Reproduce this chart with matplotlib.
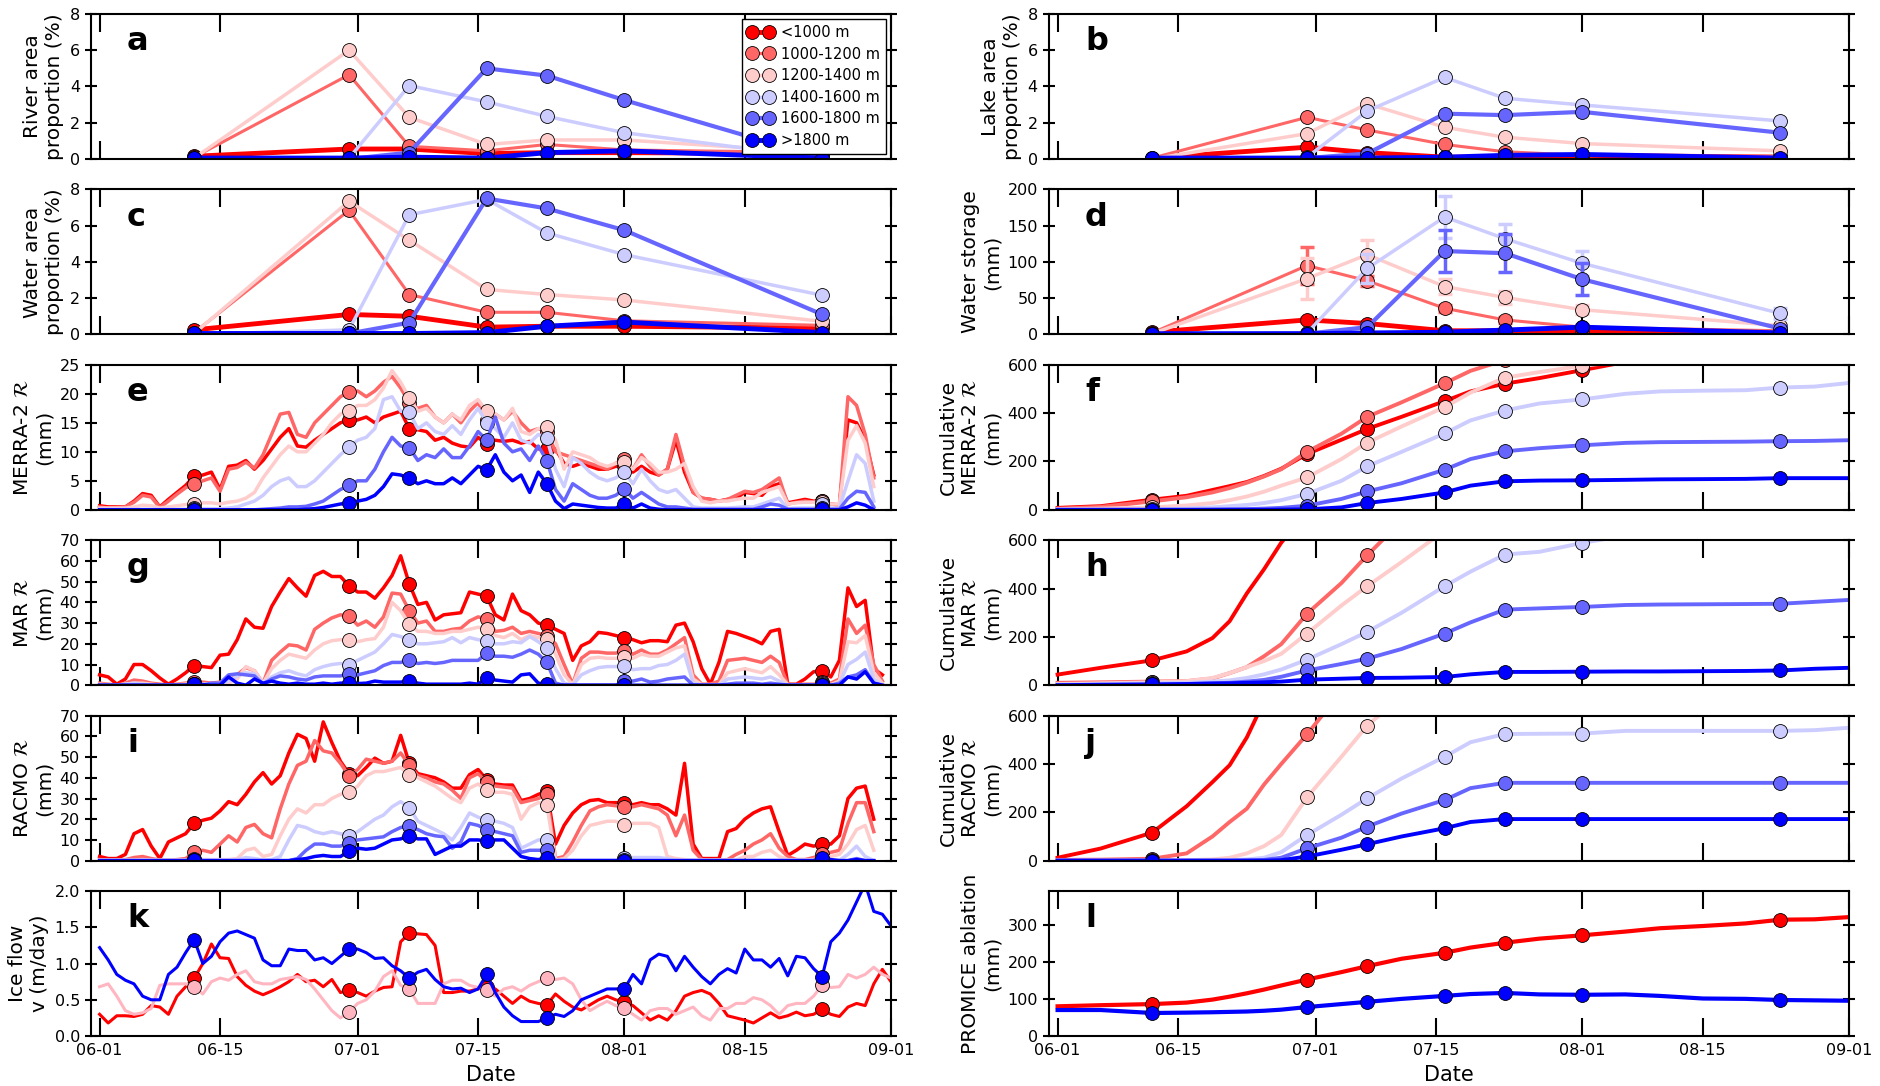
import numpy as np
import pandas as pd
import matplotlib
matplotlib.use("Agg")
import matplotlib.pyplot as plt
import matplotlib.dates as mdates

nan = np.nan

# elevation bands and their colours
bands = ["<1000 m", "1000-1200 m", "1200-1400 m", "1400-1600 m", "1600-1800 m", ">1800 m"]
band_colors = [(1, 0, 0), (1, 0.4, 0.4), (1, 0.8, 0.8), (0.8, 0.8, 1), (0.4, 0.4, 1), (0, 0, 1)]

# days since 06-01 of the satellite images
obs_days = [11, 29, 36, 45, 52, 61, 84]
tick_dates = ["2016-06-01", "2016-06-15", "2016-07-01", "2016-07-15", "2016-08-01", "2016-08-15", "2016-09-01"]

# a - river area proportion (%)
river_area = [
    [0.15, 0.55, 0.55, 0.3, 0.35, 0.35, 0.3],
    [0.1, 4.65, 0.7, 0.45, 0.8, 0.5, 0.35],
    [0.05, 6.0, 2.3, 0.8, 1.05, 1.05, 0.35],
    [0.0, 0.05, 4.05, 3.15, 2.35, 1.45, 0.05],
    [0.0, 0.0, 0.35, 5.0, 4.6, 3.25, 0.05],
    [0.05, 0.05, 0.1, 0.05, 0.35, 0.45, 0.05],
]
# b - lake area proportion (%)
lake_area = [
    [0.05, 0.65, 0.35, 0.1, 0.1, 0.2, 0.1],
    [0.05, 2.3, 1.6, 0.8, 0.4, 0.2, 0.15],
    [0.0, 1.4, 3.05, 1.75, 1.2, 0.85, 0.45],
    [0.0, 0.1, 2.65, 4.5, 3.35, 2.98, 2.1],
    [0.0, 0.05, 0.3, 2.5, 2.42, 2.6, 1.45],
    [0.05, 0.05, 0.05, 0.1, 0.2, 0.25, 0.05],
]
# c - water area proportion (%)
water_area = [
    [0.25, 1.1, 1.0, 0.4, 0.45, 0.45, 0.35],
    [0.1, 6.85, 2.2, 1.22, 1.22, 0.75, 0.5],
    [0.05, 7.35, 5.2, 2.48, 2.2, 1.9, 0.72],
    [0.0, 0.25, 6.6, 7.45, 5.6, 4.4, 2.16],
    [0.0, 0.05, 0.65, 7.5, 6.95, 5.75, 1.1],
    [0.05, 0.05, 0.05, 0.1, 0.45, 0.68, 0.1],
]
# d - water storage (mm) and uncertainty
water_storage = [
    [3, 20, 15, 5, 5, 5, 3],
    [2, 95, 74, 36, 20, 10, 5],
    [1, 77, 110, 66, 51, 34, 12],
    [0, 2, 91, 162, 132, 98, 29],
    [0, 1, 10, 115, 112, 76, 8],
    [1, 1, 2, 3, 6, 10, 2],
]
water_storage_err = [
    [1, 3, 2, 1, 1, 1, 1],
    [1, 26, 7, 5, 4, 2, 1],
    [1, 28, 20, 10, 9, 6, 3],
    [0, 1, 20, 29, 20, 17, 8],
    [0, 1, 5, 29, 26, 22, 3],
    [0, 0, 1, 1, 2, 3, 1],
]

# e - MERRA-2 daily runoff (mm), one value per day from 06-01
merra_daily = [
    [0.7, 0.5, 0.5, 0.5, 1.5, 2.8, 2.5, 0.5, 1.8, 3.0,
     4.2, 5.8, 6.0, 6.5, 3.5, 7.5, 7.7, 8.5, 7.0, 8.5,
     10.5, 12.5, 14.0, 11.0, 10.8, 12.0, 13.0, 14.0, 15.0, 15.5,
     15.5, 16.0, 15.0, 16.0, 16.5, 17.0, 14.0, 13.8, 13.5, 12.0,
     12.5, 11.5, 11.0, 10.8, 12.5, 11.3, 12.0, 11.8, 12.0, 11.5,
     11.8, 10.5, 10.5, 10.5, 8.0, 7.5, 8.0, 7.5, 7.0, 7.0,
     7.5, 7.5, 6.5, 7.5, 6.5, 6.0, 7.0, 12.0, 6.5, 3.0,
     2.0, 1.8, 1.5, 1.8, 2.0, 3.0, 2.8, 2.5, 4.0, 4.5,
     1.2, 1.5, 1.8, 1.5, 1.5, 1.0, 0.8, 15.5, 15.0, 12.0,
     6.0],
    [0.5, 0.3, 0.4, 0.5, 1.3, 2.5, 2.2, 0.4, 1.5, 2.7,
     3.8, 4.5, 5.0, 5.5, 3.2, 7.0, 7.3, 8.2, 7.2, 9.5,
     13.0, 16.5, 16.8, 13.0, 12.5, 15.0, 16.5, 18.0, 19.5, 20.3,
     20.5, 19.5, 20.5, 22.0, 23.0, 21.0, 18.5, 17.5, 18.0, 16.0,
     15.0, 16.5, 15.0, 17.0, 18.5, 15.5, 16.5, 15.5, 17.0, 15.0,
     13.5, 14.0, 13.5, 10.0, 9.5, 9.0, 8.5, 8.0, 7.5, 7.0,
     8.0, 8.8, 7.0, 9.5, 7.5, 6.0, 7.0, 13.0, 7.5, 3.0,
     2.0, 1.8, 1.5, 1.8, 2.5, 3.2, 3.0, 3.5, 4.5, 5.5,
     1.0, 1.3, 1.5, 1.3, 1.5, 1.0, 0.8, 19.5, 18.0, 13.0,
     5.5],
    [0.3, 0.3, 0.3, 0.3, 0.5, 0.8, 0.7, 0.3, 0.5, 0.7,
     0.9, 1.0, 1.2, 1.2, 1.0, 1.3, 1.5, 2.0, 3.0, 5.5,
     7.5, 9.5, 11.0, 10.0, 10.0, 11.5, 13.0, 15.0, 16.5, 17.0,
     18.0, 18.0, 19.0, 21.0, 24.0, 22.0, 19.3, 17.0, 17.5, 16.0,
     15.0, 16.5, 15.5, 18.0, 19.0, 17.0, 16.5, 15.5, 17.5, 13.5,
     13.0, 14.0, 14.3, 12.0, 7.0, 10.0, 9.5, 9.0, 8.0, 7.5,
     8.0, 8.2, 7.0, 9.0, 8.0, 6.5, 6.5, 7.0, 8.0, 4.0,
     1.5, 1.2, 1.5, 1.5, 1.8, 2.0, 2.0, 3.0, 3.5, 4.0,
     1.0, 1.2, 1.3, 1.3, 1.3, 1.0, 1.0, 12.0, 14.5, 11.5,
     4.0],
    [0.1, 0.1, 0.1, 0.1, 0.1, 0.1, 0.1, 0.1, 0.1, 0.1,
     0.1, 0.3, 0.2, 0.2, 0.2, 0.3, 0.5, 1.0, 1.5, 2.5,
     4.0, 5.0, 5.5, 4.0, 4.0, 5.0, 6.5, 8.0, 9.5, 10.8,
     12.0, 12.5, 14.0, 19.0, 19.5, 17.0, 16.8, 14.0, 15.0, 13.5,
     13.0, 14.5, 13.0, 15.5, 17.5, 15.0, 14.0, 12.5, 15.0, 12.0,
     11.5, 13.0, 12.3, 7.0, 4.0, 9.0, 8.0, 6.5, 5.5, 5.0,
     5.5, 6.5, 4.5, 7.0, 5.0, 3.5, 3.0, 3.5, 2.0, 0.5,
     0.3, 0.3, 0.3, 0.3, 0.4, 0.5, 0.5, 1.0, 1.5, 2.0,
     0.2, 0.3, 0.3, 0.3, 1.0, 0.3, 0.3, 5.0, 9.5, 8.0,
     1.5],
    [0, 0, 0, 0, 0, 0, 0, 0, 0, 0,
     0, 0.1, 0, 0, 0, 0, 0, 0, 0, 0.1,
     0.2, 0.3, 0.5, 0.5, 0.6, 1.0, 1.5, 2.5, 3.5, 4.2,
     5.0, 5.0, 7.0, 10.0, 12.5, 11.0, 10.7, 8.5, 9.5, 9.0,
     10.5, 9.0, 9.0, 11.0, 13.5, 12.0, 16.0, 11.5, 10.0, 10.5,
     8.5, 11.0, 8.5, 3.5, 1.5, 4.5, 3.5, 2.5, 2.0, 2.0,
     2.5, 3.6, 2.0, 3.0, 2.0, 1.0, 0.5, 0.5, 0.3, 0.1,
     0.1, 0.1, 0.1, 0.1, 0.1, 0.1, 0.1, 0.5, 1.0, 0.8,
     0.1, 0.1, 0.1, 0.1, 0.3, 0.1, 0.1, 2.0, 3.2, 3.0,
     0.5],
    [0, 0, 0, 0, 0, 0, 0, 0, 0, 0,
     0, 0.05, 0, 0, 0, 0, 0, 0, 0, 0,
     0, 0, 0, 0, 0.1, 0.2, 0.4, 0.7, 1.0, 1.2,
     1.5, 1.8, 2.5, 4.0, 6.2, 6.0, 5.4, 4.5, 5.0, 4.5,
     4.5, 5.5, 4.5, 6.0, 7.5, 6.9, 9.5, 6.5, 5.0, 6.0,
     3.0, 6.5, 4.5, 1.5, 0.2, 1.0, 0.8, 0.6, 0.4, 0.3,
     0.3, 1.0, 0.3, 1.0, 0.3, 0.1, 0, 0, 0, 0,
     0, 0, 0, 0, 0, 0, 0, 0, 0, 0,
     0, 0, 0, 0, 0.1, 0, 0, 0.5, 1.2, 0.8,
     0],
]

# g - MAR daily runoff (mm)
mar_daily = [
    [5, 4, 0.5, 3, 10, 10, 7, 3.5, 0.5, 3,
     6, 9.5, 9, 8.5, 14.5, 15, 22, 32, 28, 27.5,
     38, 45, 51.5, 47, 43, 53, 55, 52.5, 52.5, 48,
     45, 45, 42, 47, 53, 62.5, 49, 39, 40, 31.5,
     34, 34.5, 35, 45, 44, 43, 34, 31.5, 44, 36,
     34, 30, 29, 27, 25, 12, 19, 21, 25.5, 25,
     24, 23, 22, 20.5, 21.5, 21.5, 21, 29, 30, 21,
     8, 0.5, 11, 26, 25, 23.5, 22, 20, 26, 27,
     0.5, 0.5, 3, 6.5, 7, 4, 12, 47, 38, 41,
     8, 5],
    [1, 0.5, 0, 1, 2.5, 2, 1, 0.5, 0, 0.5,
     1, 1.5, 1.5, 1, 1.5, 2, 5, 8.5, 7, 1,
     12, 16, 19.5, 19, 17, 27, 30, 32.5, 34, 33.5,
     29, 31, 28, 33, 44.5, 44, 36, 30, 31, 26,
     26, 27, 27.5, 31, 33, 32, 26, 26.5, 28, 25,
     26, 25, 24, 20, 10, 0.5, 13, 16, 16, 15.5,
     15.5, 16.5, 15, 17, 15, 15, 17, 20, 23, 5,
     0.5, 0.5, 2, 12, 12.5, 13, 12, 11, 14, 11,
     0.3, 0.2, 0.5, 0.5, 1.5, 1, 3, 32, 25, 29,
     10, 2],
    [0.5, 0.3, 0, 0.5, 1, 1, 0.5, 0, 0, 0.3,
     0.5, 0.5, 0.5, 0.5, 1, 1, 3, 9, 7, 1,
     8, 12, 15, 14, 13, 17, 20, 21.5, 22, 22,
     21, 22, 22.5, 28, 40, 36, 29.5, 26, 26, 25,
     25, 26, 26, 27, 28, 27, 24, 23, 25, 22,
     24, 23, 22.5, 15, 5, 0.3, 10, 13, 13.5, 13,
     13, 13.5, 13, 15, 14, 14, 16, 18, 19, 3,
     0.3, 0.3, 0.3, 6, 7, 8, 7, 6, 9, 5,
     0.3, 0.3, 0.3, 0.3, 1, 0.3, 2, 21, 20.5, 24,
     6, 1],
    [0, 0, 0, 0.5, 1, 0.5, 0, 0, 0, 0,
     0.3, 0.5, 0.5, 0.5, 1, 2, 4.5, 6, 5.5, 1,
     4, 6, 7, 5.5, 4.5, 7.5, 9, 10, 10.5, 10,
     12, 14, 16, 20, 24.5, 23.5, 22, 20, 20, 20.5,
     21, 23, 20.5, 23, 22, 21.5, 20, 20, 21, 20.5,
     23.5, 21, 18, 8, 1, 0, 5, 7, 8.5, 9,
     9, 9.5, 7.5, 8, 8, 9.5, 10, 12, 15, 1,
     0, 0, 0, 3, 3.5, 4, 3.5, 3, 4, 2,
     0, 0, 0, 0, 0.5, 0, 1, 10, 12.5, 16,
     3, 0],
    [0, 0, 0, 0, 0, 0, 0, 0, 0, 0,
     0, 0.5, 0, 1, 1, 5, 5.5, 5, 4.5, 0.5,
     3, 4.5, 4, 3, 2.5, 4, 4.5, 4.5, 4.5, 5.5,
     5, 6, 7, 9.5, 11, 11, 12, 10.5, 11, 10.5,
     11, 12, 12, 12, 12, 15.5, 14, 14, 13.5, 15,
     17, 15, 11, 1, 0, 0, 0, 0, 0, 0,
     0, 2, 2, 3, 1.5, 2, 3, 3.5, 4, 0,
     0, 0, 0, 0.5, 1, 1, 1, 0.5, 1, 0.5,
     0, 0, 0, 0, 0.3, 0, 1, 4, 5, 7.5,
     1, 0],
    [0, 0, 0, 0, 0, 0, 0, 0, 0, 0,
     0, 0.5, 0.3, 0, 0, 4, 1, 0, 3, 1,
     2, 1, 0.5, 1, 0.5, 0.5, 1, 0.5, 1, 1,
     0.8, 1, 2, 1.5, 1.5, 1.5, 2, 1, 0.5, 0.5,
     0.5, 0.5, 0.5, 1, 0.5, 3.5, 2.5, 2, 1.5, 5,
     5.5, 1, 0.5, 0, 0, 0, 0, 0, 0, 0,
     0, 0.3, 0, 0, 0, 0, 0, 0, 0, 0,
     0, 0, 0, 0, 0, 0, 0, 0, 0, 0,
     0, 0, 0, 0, 0, 0, 0, 4, 3, 6.5,
     1, 0],
]

# i - RACMO daily runoff (mm)
racmo_daily = [
    [2, 1, 1, 3, 13, 15, 7, 1, 9, 11,
     13, 18, 19.5, 20.5, 24, 28.5, 27, 32, 38, 42.5,
     37, 41, 52, 61, 59, 48, 67, 57, 48, 42,
     41, 45, 49.5, 47, 48, 60.5, 47, 42, 41, 40,
     38, 35, 35, 41.5, 44, 39, 37, 36.5, 36.5, 29,
     30, 32, 33.5, 8, 17, 23, 27, 29, 29.5, 28,
     28, 28, 27, 28, 27, 27, 25, 22, 47, 8,
     1, 1, 1, 14, 15.5, 20, 23, 25, 26, 14,
     2.5, 5, 8, 7, 8, 8, 12, 30, 35, 36,
     20],
    [0.5, 0.3, 0.3, 0.5, 1.5, 2, 1, 0.3, 0.3, 0.5,
     1, 4, 5, 4, 8, 12, 9, 16, 17.5, 13,
     11, 25, 37, 46, 48, 58, 53, 52, 47, 41,
     44, 49, 48, 47, 48, 52, 46, 41, 40, 38,
     37, 34, 30, 40, 42, 38, 36, 35.5, 35, 28,
     29, 30, 32, 1, 2, 9, 17, 24, 26, 27,
     26.5, 26, 26, 27, 26, 25, 22, 12, 22, 5,
     0.5, 0.3, 0.3, 0.5, 3, 5, 8, 10, 13, 6,
     2, 0.5, 0.5, 1.5, 3, 4, 5, 18, 28, 28,
     14],
    [0.2, 0.2, 0.2, 0.2, 0.3, 0.5, 0.3, 0.2, 0.2, 0.2,
     0.3, 1, 0.5, 0.5, 0.5, 0.5, 1, 5, 6, 2,
     3, 12, 20, 25, 23, 27, 27, 30, 32, 33,
     36, 41, 43, 43, 44, 45, 41.5, 40, 38, 36,
     33, 30, 28, 35, 37, 34, 33, 33, 32, 20,
     26, 28, 27, 0.3, 1, 5, 12, 17, 18, 19,
     19, 17, 18, 18, 18, 16, 2, 1, 0.5, 0.2,
     0.2, 0.2, 0.2, 0.2, 0.2, 2, 2, 4, 5, 2,
     0.5, 0.3, 0.3, 0.5, 1, 2, 3, 8, 15, 17,
     5],
    [0.2, 0.2, 0.2, 0.2, 0.2, 0.2, 0.2, 0.2, 0.2, 0.2,
     0.2, 0.5, 0.3, 0.3, 0.3, 0.3, 0.5, 1.5, 1, 0.3,
     0.5, 2, 10, 17, 16, 14, 13, 14, 13, 12,
     14, 17, 20, 22, 26, 28.5, 25.5, 19, 17, 15,
     13, 10, 16, 23, 21, 19.5, 19, 18, 16, 6,
     8, 10, 10, 0.3, 0.3, 0.3, 0.3, 0.3, 0.3, 0.3,
     0.3, 1.5, 1.5, 1.5, 1.5, 1.5, 1, 0.2, 0.2, 0.2,
     0.2, 0.2, 0.2, 0.2, 0.2, 0.2, 0.2, 0.2, 0.2, 0.2,
     0.2, 0.2, 0.2, 0.2, 0.5, 0.2, 0.2, 3, 7, 2,
     0],
    [0, 0, 0, 0, 0, 0, 0, 0, 0, 0,
     0, 0.3, 0, 0, 0, 0, 0, 0, 0, 0,
     0, 0, 0, 1, 5, 8, 8, 7, 7, 8.5,
     10, 10.5, 11, 11.5, 14, 16, 16.5, 15, 13, 12,
     11.5, 6, 9, 18, 17, 15, 14, 13, 12, 4,
     5, 5, 5, 0, 0, 0, 0, 0, 0, 0,
     0, 0.5, 0, 0, 0, 0, 0, 0, 0, 0,
     0, 0, 0, 0, 0, 0, 0, 0, 0, 0,
     0, 0, 0, 0, 0.3, 0, 0, 0, 1, 0,
     0],
    [0, 0, 0, 0, 0, 0, 0, 0, 0, 0,
     0, 0.5, 0, 0, 0, 0, 0, 0, 0, 0,
     0, 0, 0, 0.5, 1, 2, 2.5, 2, 2, 4.5,
     6, 5.5, 6, 8, 10, 10.5, 12, 10.5, 10.5, 3,
     5, 7, 7, 10, 10, 9.5, 10, 10, 6, 2,
     1, 0.5, 1.5, 0, 0, 0, 0, 0, 0, 0,
     0, 0, 0, 0, 0, 0, 0, 0, 0, 0,
     0, 0, 0, 0, 0, 0, 0, 0, 0, 0,
     0, 0, 0, 0, 1.5, 0.5, 0, 0, 0.5, 0,
     0],
]

# k - ice flow speed (m/day) at three GPS sites
flow_colors = [(1, 0, 0), "lightpink", (0, 0, 1)]
ice_flow = [
    [0.3, 0.18, 0.28, 0.28, 0.27, 0.3, 0.42, 0.4, 0.3, 0.55,
     0.68, 0.8, 1.0, 1.27, 1.08, 1.07, 0.82, 0.7, 0.62, 0.57,
     0.62, 0.68, 0.75, 0.85, 0.75, 0.77, 0.68, 0.78, 0.6, 0.63,
     0.6, 0.55, 0.62, 0.67, 0.68, 1.3, 1.42, 1.41, 1.4, 1.25,
     0.6, 0.6, 0.62, 0.62, 0.65, 0.68, 0.65, 0.55, 0.45, 0.55,
     0.48, 0.45, 0.43, 0.58, 0.48, 0.4, 0.36, 0.43, 0.5, 0.55,
     0.5, 0.47, 0.42, 0.32, 0.22, 0.28, 0.22, 0.35, 0.55, 0.6,
     0.63, 0.58, 0.45, 0.28, 0.25, 0.22, 0.18, 0.25, 0.32, 0.25,
     0.28, 0.33, 0.28, 0.3, 0.37, 0.3, 0.27, 0.4, 0.45, 0.42,
     0.72, 0.92, 0.75],
    [0.68, 0.72, 0.55, 0.35, 0.3, 0.32, 0.38, 0.7, 0.72, 0.72,
     0.72, 0.68, 0.58, 0.75, 0.8, 0.77, 0.85, 0.9, 0.75, 0.72,
     0.72, 0.78, 0.8, 0.82, 0.78, 0.65, 0.5, 0.35, 0.25, 0.33,
     0.45, 0.5, 0.62, 0.82, 0.9, 0.7, 0.65, 0.45, 0.45, 0.45,
     0.72, 0.77, 0.77, 0.7, 0.67, 0.63, 0.55, 0.65, 0.68, 0.62,
     0.7, 0.75, 0.8, 0.78, 0.8, 0.72, 0.5, 0.35, 0.42, 0.48,
     0.42, 0.38, 0.3, 0.22, 0.35, 0.38, 0.38, 0.3, 0.35, 0.4,
     0.28, 0.22, 0.38, 0.38, 0.45, 0.45, 0.53, 0.5, 0.42, 0.3,
     0.42, 0.45, 0.45, 0.55, 0.7, 0.67, 0.68, 0.85, 0.8, 0.85,
     0.95, 0.85, 0.8],
    [1.22, 1.05, 0.85, 0.77, 0.72, 0.55, 0.5, 0.5, 0.85, 0.95,
     1.15, 1.33, 1.0, 1.1, 1.3, 1.42, 1.45, 1.4, 1.35, 1.05,
     0.97, 0.97, 1.2, 1.18, 1.18, 1.05, 1.08, 1.0, 1.1, 1.2,
     1.2, 1.15, 1.07, 1.08, 0.97, 0.9, 0.8, 0.88, 0.92, 0.78,
     0.68, 0.65, 0.66, 0.6, 0.65, 0.85, 0.6, 0.4, 0.28, 0.2,
     0.2, 0.2, 0.25, 0.3, 0.27, 0.35, 0.5, 0.55, 0.6, 0.65,
     0.65, 0.65, 0.85, 0.72, 1.05, 1.13, 1.1, 0.9, 1.1, 0.95,
     0.82, 0.72, 0.85, 0.93, 0.87, 1.2, 1.05, 1.05, 0.95, 1.07,
     0.83, 1.1, 1.08, 0.93, 0.82, 1.3, 1.42, 1.6, 1.85, 2.1,
     1.72, 1.68, 1.52],
]

# cumulative series are read at these days since 06-01
cum_days = [0, 5, 11, 15, 18, 20, 22, 24, 26, 29, 33, 36, 40, 45, 48, 52, 56, 61, 66, 70, 75, 80, 84, 88, 92]

# f - cumulative MERRA-2 runoff (mm)
merra_cum = [
    [8, 15, 42, 58, 82, 98, 115, 140, 170, 231, 290, 335, 385, 450, 490, 522, 545, 578, 612, nan, nan, nan, nan, nan, nan],
    [5, 12, 35, 52, 72, 90, 112, 138, 168, 240, 315, 385, 445, 524, 575, 620, nan, nan, nan, nan, nan, nan, nan, nan, nan],
    [3, 5, 10, 18, 28, 40, 55, 75, 100, 134, 210, 278, 345, 425, 485, 547, 570, 596, 615, nan, nan, nan, nan, nan, nan],
    [0, 0, 2, 5, 10, 15, 20, 28, 40, 66, 120, 180, 240, 316, 370, 411, 440, 457, 480, 490, 493, 495, 506, 510, 525],
    [0, 0, 0, 0, 1, 2, 3, 5, 8, 17, 45, 76, 110, 166, 210, 242, 255, 267, 277, 280, 281, 282, 284, 285, 288],
    [0, 0, 0, 0, 0, 0, 0, 0, 1, 2, 10, 28, 45, 72, 100, 118, 121, 122, 124, 126, 127, 128, 131, 131, 131],
]
# h - cumulative MAR runoff (mm)
mar_cum = [
    [44, 72, 103, 140, 195, 265, 380, 480, 590, 720, nan, nan, nan, nan, nan, nan, nan, nan, nan, nan, nan, nan, nan, nan, nan],
    [10, 12, 15, 17, 28, 50, 75, 120, 170, 296, 423, 538, 680, nan, nan, nan, nan, nan, nan, nan, nan, nan, nan, nan, nan],
    [5, 8, 12, 17, 30, 50, 75, 100, 130, 214, 330, 410, 510, 640, nan, nan, nan, nan, nan, nan, nan, nan, nan, nan, nan],
    [3, 5, 8, 10, 15, 20, 30, 45, 65, 106, 170, 221, 300, 410, 470, 541, 552, 589, 620, nan, nan, nan, nan, nan, nan],
    [0, 1, 3, 5, 8, 10, 15, 22, 35, 61, 88, 110, 150, 214, 260, 313, 318, 324, 332, 334, 335, 336, 337, 345, 353],
    [0, 2, 3, 5, 7, 8, 10, 12, 15, 23, 27, 30, 31, 34, 45, 55, 55, 56, 57, 57, 58, 59, 61, 68, 72],
]
# j - cumulative RACMO runoff (mm)
racmo_cum = [
    [12, 50, 116, 225, 325, 395, 510, 660, nan, nan, nan, nan, nan, nan, nan, nan, nan, nan, nan, nan, nan, nan, nan, nan, nan],
    [3, 4, 8, 30, 100, 160, 215, 315, 400, 523, 700, nan, nan, nan, nan, nan, nan, nan, nan, nan, nan, nan, nan, nan, nan],
    [0, 0, 1, 2, 5, 12, 30, 60, 106, 262, 430, 559, 680, nan, nan, nan, nan, nan, nan, nan, nan, nan, nan, nan, nan],
    [0, 0, 0, 0, 1, 2, 5, 12, 35, 106, 190, 258, 340, 430, 490, 524, 525, 526, 537, 537, 537, 537, 537, 540, 550],
    [0, 0, 0, 0, 0, 0, 1, 3, 12, 51, 95, 141, 195, 251, 300, 322, 322, 322, 322, 322, 322, 322, 322, 322, 322],
    [0, 0, 0, 0, 0, 0, 0, 0, 2, 17, 45, 68, 100, 134, 160, 172, 172, 172, 172, 172, 172, 172, 172, 172, 172],
]
# l - PROMICE cumulative ablation (mm), lower and upper station
promice_colors = [(1, 0, 0), (0, 0, 1)]
promice = [
    [80, 83, 86, 90, 98, 106, 115, 125, 136, 152, 172, 188, 208, 224, 238, 251, 262, 271, 281, 290, 296, 303, 313, 314, 320],
    [70, 70, 62, 63, 64, 65, 66, 68, 71, 78, 86, 92, 100, 108, 113, 116, 112, 111, 112, 108, 101, 100, 97, 96, 95],
]

plt.rcParams["font.family"] = "DejaVu Sans"
plt.rcParams["mathtext.fontset"] = "dejavusans"

day0 = pd.Timestamp("2016-06-01")
obs_x = day0 + pd.to_timedelta(obs_days, unit="D")
cum_x = day0 + pd.to_timedelta(cum_days, unit="D")
cum_marks = [cum_days.index(d) for d in obs_days]
MS = 10


def obs_panel(ax, series, lws, err=None):
    lines = []
    for k, (vals, c) in enumerate(zip(series, band_colors)):
        if err is not None:
            ax.errorbar(obs_x, vals, yerr=err[k], fmt="none", ecolor=c, elinewidth=2.5,
                        capsize=5, capthick=2.5)
        ln, = ax.plot(obs_x, vals, "-o", color=c, lw=lws[k], ms=MS, mec="k", mew=0.6,
                      label=bands[k])
        lines.append(ln)
    return lines


def daily_panel(ax, series, colors, lw=2.5):
    for vals, c in zip(series, colors):
        x = day0 + pd.to_timedelta(np.arange(len(vals)), unit="D")
        ax.plot(x, vals, "-o", color=c, lw=lw, ms=MS, mec="k", mew=0.6, markevery=obs_days)


def cum_panel(ax, series, colors, lw=2.8):
    for vals, c in zip(series, colors):
        ax.plot(cum_x, vals, "-o", color=c, lw=lw, ms=MS, mec="k", mew=0.6, markevery=cum_marks)


def style(ax, letter, ylabel, ylim, yticks, bottom=False):
    ax.set_xlim(pd.Timestamp("2016-05-31"), pd.Timestamp("2016-09-01"))
    ax.set_ylim(*ylim)
    ax.set_yticks(yticks)
    ax.set_xticks(pd.to_datetime(tick_dates))
    ax.xaxis.set_major_formatter(mdates.DateFormatter("%m-%d"))
    ax.tick_params(axis="x", direction="in", length=13, width=1.5, top=True,
                   labelsize=11.5, pad=5, labelbottom=bottom)
    ax.tick_params(axis="y", direction="inout", length=9, width=1.5, right=True, labelsize=11.5)
    for s in ax.spines.values():
        s.set_linewidth(1.5)
    ax.set_ylabel(ylabel, fontsize=14.5, labelpad=4)
    ax.text(0.045, 0.75, letter, transform=ax.transAxes, fontsize=23, fontweight="bold",
            va="baseline", ha="left")
    if bottom:
        ax.set_xlabel("Date", fontsize=15, labelpad=5)


fig, axes = plt.subplots(6, 2, figsize=(18.8, 10.86), dpi=100)
fig.subplots_adjust(left=0.0484, right=0.9835, top=0.9871, bottom=0.046, wspace=0.1975, hspace=0.21)

obs_lw = [3.5, 2.2, 2.5, 2.5, 3.0, 3.5]

ax = axes[0, 0]
handles = obs_panel(ax, river_area, obs_lw)
style(ax, "a", "River area\nproportion (%)", (0, 8), [0, 2, 4, 6, 8])
ax.legend(handles=handles, loc="upper right", fontsize=10.5, numpoints=2, frameon=True,
          fancybox=False, edgecolor="k", framealpha=1, borderpad=0.4, labelspacing=0.45,
          handlelength=1.8, handletextpad=0.5, borderaxespad=0.35)

ax = axes[0, 1]
obs_panel(ax, lake_area, obs_lw)
style(ax, "b", "Lake area\nproportion (%)", (0, 8), [0, 2, 4, 6, 8])

ax = axes[1, 0]
obs_panel(ax, water_area, obs_lw)
style(ax, "c", "Water area\nproportion (%)", (0, 8), [0, 2, 4, 6, 8])

ax = axes[1, 1]
obs_panel(ax, water_storage, obs_lw, err=water_storage_err)
style(ax, "d", "Water storage\n(mm)", (0, 200), [0, 50, 100, 150, 200])

ax = axes[2, 0]
daily_panel(ax, merra_daily, band_colors)
style(ax, "e", "MERRA-2 $\\mathcal{R}$\n(mm)", (0, 25), [0, 5, 10, 15, 20, 25])

ax = axes[2, 1]
cum_panel(ax, merra_cum, band_colors)
style(ax, "f", "Cumulative\nMERRA-2 $\\mathcal{R}$\n(mm)", (0, 600), [0, 200, 400, 600])

ax = axes[3, 0]
daily_panel(ax, mar_daily, band_colors)
style(ax, "g", "MAR $\\mathcal{R}$\n(mm)", (0, 70), [0, 10, 20, 30, 40, 50, 60, 70])

ax = axes[3, 1]
cum_panel(ax, mar_cum, band_colors)
style(ax, "h", "Cumulative\nMAR $\\mathcal{R}$\n(mm)", (0, 600), [0, 200, 400, 600])

ax = axes[4, 0]
daily_panel(ax, racmo_daily, band_colors)
style(ax, "i", "RACMO $\\mathcal{R}$\n(mm)", (0, 70), [0, 10, 20, 30, 40, 50, 60, 70])

ax = axes[4, 1]
cum_panel(ax, racmo_cum, band_colors)
style(ax, "j", "Cumulative\nRACMO $\\mathcal{R}$\n(mm)", (0, 600), [0, 200, 400, 600])

ax = axes[5, 0]
daily_panel(ax, ice_flow, flow_colors, lw=2.2)
style(ax, "k", "Ice flow\nv (m/day)", (0, 2), [0.0, 0.5, 1.0, 1.5, 2.0], bottom=True)

ax = axes[5, 1]
cum_panel(ax, promice, promice_colors, lw=3.0)
style(ax, "l", "PROMICE ablation\n(mm)", (0, 390), [0, 100, 200, 300], bottom=True)

fig.savefig("out.png", dpi=100)
